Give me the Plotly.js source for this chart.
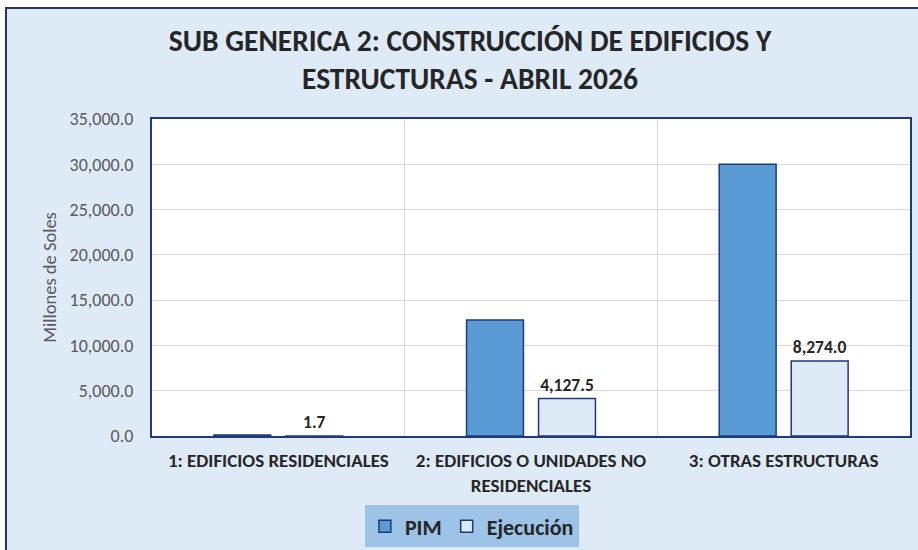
<!DOCTYPE html>
<html><head><meta charset="utf-8">
<script src="https://cdn.plot.ly/plotly-3.0.1.min.js"></script>
<style>
body{margin:0;background:#fff;}
#frame{position:absolute;left:5px;top:7px;width:1000px;height:700px;border:2px solid #203864;background:#DEEBF7;}
#chart{position:absolute;left:0;top:0;width:918px;height:550px;}
</style></head><body>
<div id="frame"></div>
<div id="chart"></div>
<script>
const categories = ["1: EDIFICIOS RESIDENCIALES", "2: EDIFICIOS O UNIDADES NO<br>RESIDENCIALES", "3: OTRAS ESTRUCTURAS"];
const pimValues = [120, 12800, 30000];
const ejecValues = [1.7, 4127.5, 8274.0];
const ejecLabels = ["1.7", "4,127.5", "8,274.0"];
const yTicks = [0, 5000, 10000, 15000, 20000, 25000, 30000, 35000];

const FONT = "Carlito, Lato, 'Liberation Sans', Arial, sans-serif";
const data = [
  {type:'bar', name:'PIM', x:categories, y:pimValues,
   marker:{color:'#5B9BD5', line:{color:'#1F3A7A', width:1.5}}, hoverinfo:'y'},
  {type:'bar', name:'Ejecución', x:categories, y:ejecValues,
   text:ejecLabels, textposition:'outside', cliponaxis:false,
   textfont:{family:FONT, size:17.5, color:'#262626', weight:'bold'},
   marker:{color:'#DEEBF7', line:{color:'#1F3A7A', width:1.5}}, hoverinfo:'y'}
];
const layout = {
  width:918, height:550,
  paper_bgcolor:'rgba(0,0,0,0)', plot_bgcolor:'#FFFFFF',
  margin:{l:152, r:8, t:119, b:114, autoexpand:false},
  font:{family:FONT, color:'#595959'},
  title:{text:'<b>SUB GENERICA 2: CONSTRUCCIÓN DE EDIFICIOS Y<br>ESTRUCTURAS - ABRIL 2026</b>',
    x:0.512, xref:'container', xanchor:'center', y:1-51/550, yref:'container', yanchor:'middle',
    font:{family:FONT, size:29.5, color:'#262626'}},
  barmode:'group', bargap:0.43, bargroupgap:0.21,
  xaxis:{type:'category', automargin:false, showgrid:true, gridcolor:'#D9D9D9', tickson:'boundaries', ticks:'',
    showline:true, linecolor:'#1F3A7A', linewidth:2, mirror:true, zeroline:false,
    ticklabelstandoff:6,
    tickfont:{family:FONT, size:19, color:'#262626', weight:'bold'}},
  yaxis:{range:[0,35000], automargin:false, tickvals:yTicks, tickformat:',.1f', showgrid:true, gridcolor:'#D9D9D9',
    showline:true, linecolor:'#1F3A7A', linewidth:2, mirror:true, zeroline:false,
    ticklabelstandoff:13,
    tickfont:{family:FONT, size:18, color:'#595959'},
    title:{text:'Millones de Soles', standoff:8, font:{family:FONT, size:18.5, color:'#595959'}}},
  showlegend:true,
  legend:{orientation:'h', x:0.422, xanchor:'center', y:-0.285, yanchor:'middle',
    bgcolor:'#9DC3E6', font:{family:FONT, size:22, color:'#262626', weight:'bold'},
    itemwidth:30, traceorder:'normal'}
};
Plotly.newPlot('chart', data, layout, {displayModeBar:false, staticPlot:true});
</script>
</body></html>
